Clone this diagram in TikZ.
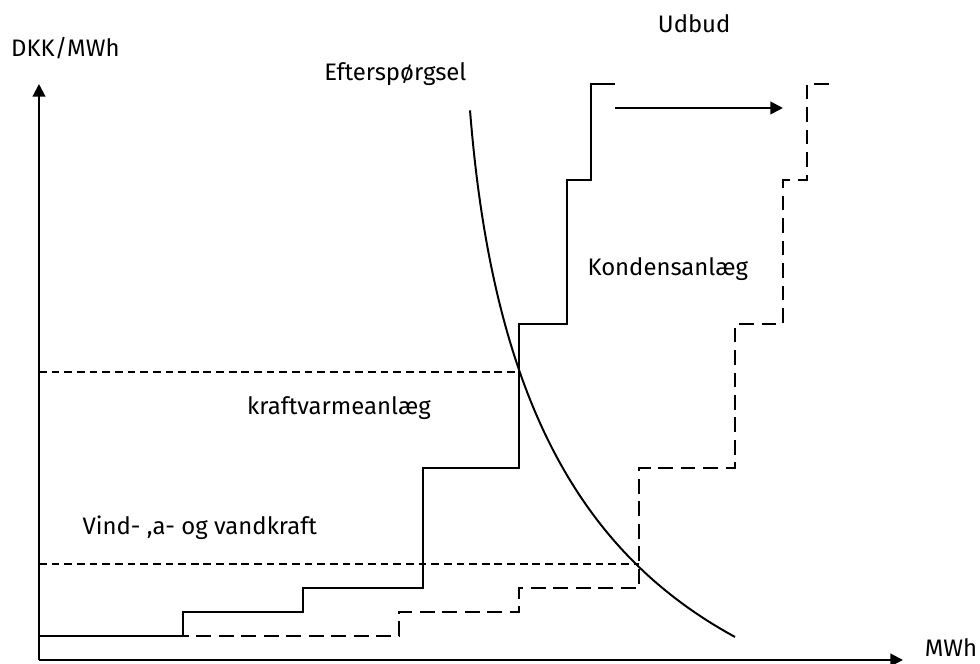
\documentclass[tikz,border=0pt]{standalone}
\usepackage{fontspec}
\setmainfont{Fira Sans}
\usetikzlibrary{arrows.meta}

\begin{document}
\begin{tikzpicture}[x=0.6cm,y=0.6cm,font=\fontsize{17}{20}\selectfont,
  akse/.style={line width=1.4pt,-{Triangle[length=9pt,width=9pt]}},
  trappe/.style={line width=1.4pt},
  trappeny/.style={line width=1.4pt,dash pattern=on 10.5pt off 5.5pt},
  niveau/.style={line width=1pt,dash pattern=on 5.5pt off 3.5pt}]

% --------- RAMME ----------
\useasboundingbox (-1.625,-0.167) rectangle (39.21,27.5);

\def\xmax{36}     % laengde af x-aksen
\def\ymax{24}     % laengde af y-aksen
\def\skift{9}     % udbuddet flyttes mod hoejre
% --------------------------

% Akser
\coordinate (O) at (0,0);
\coordinate (xend) at (\xmax,0);
\coordinate (yend) at (0,\ymax);
\draw[akse] (O) -- (xend);
\draw[akse] (O) -- (yend);
\node (mwh) at (38,0.5) {MWh};
\node (dkk) at (1.1,25.5) {DKK/MWh};

% Prisniveauer (stiplet)
\draw[niveau] (0,12) -- (20,12);
\draw[niveau] (0,4) -- (25,4);

% Udbud: trappekurve
\draw[trappe] (0,1) -| (6,2) -| (11,3) -| (16,8) -| (20,14) -| (22,20) -| (23,24) -- (24,24);

% Nyt udbud, flyttet \skift enheder
\draw[trappeny] (0,1) -| (6+\skift,2) -| (11+\skift,3) -| (16+\skift,8) -| (20+\skift,14)
  -| (22+\skift,20) -| (23+\skift,24) -- (24+\skift,24);

% Pil mellem de to udbud
\coordinate (fra) at (24,23);
\coordinate (til) at (31,23);
\draw[akse] (fra) -- (til);

% Efterspoergsel
\coordinate (eftstart) at (17.96,22.9);
\coordinate (eftslut) at (29,0.96);
\draw[trappe] (eftstart) .. controls (18.9,11) and (22.5,4.5) .. (eftslut);

% Tekster
\node (udbud) at (27.3,26.5) {Udbud};
\node (eft) at (14.85,24.4) {Efterspørgsel};
\node (kond) at (26.2,16.3) {Kondensanlæg};
\node (kv) at (12.5,10.5) {kraftvarmeanlæg};
\node (vind) at (6.7,5.5) {Vind- ,a- og vandkraft};

\end{tikzpicture}
\end{document}
